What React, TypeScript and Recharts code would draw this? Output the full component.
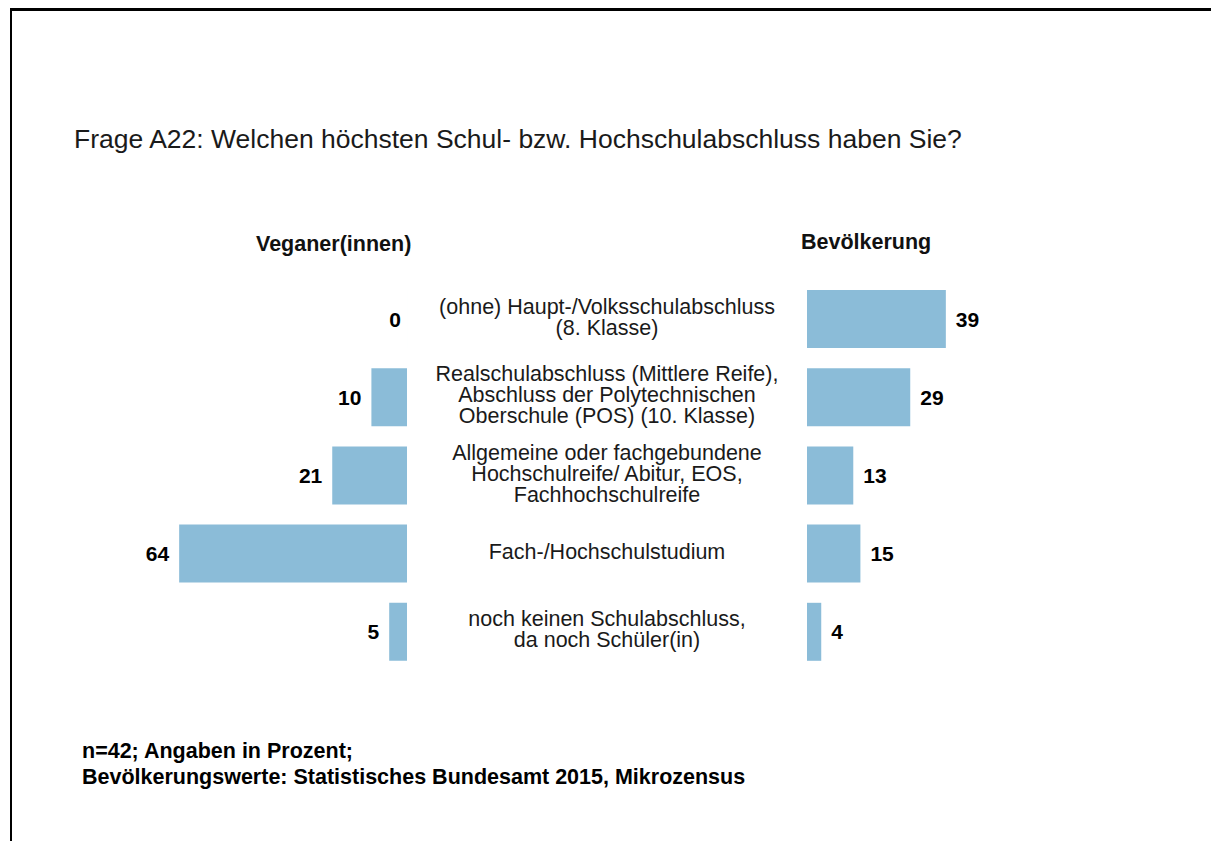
import React from 'react';
import { BarChart, Bar, XAxis, YAxis, LabelList } from 'recharts';

const categories = [
  '(ohne) Haupt-/Volksschulabschluss\n(8. Klasse)',
  'Realschulabschluss (Mittlere Reife),\nAbschluss der Polytechnischen\nOberschule (POS) (10. Klasse)',
  'Allgemeine oder fachgebundene\nHochschulreife/ Abitur, EOS,\nFachhochschulreife',
  'Fach-/Hochschulstudium',
  'noch keinen Schulabschluss,\nda noch Schüler(in)',
];
const veganValues = [0, 10, 21, 64, 5];
const populationValues = [39, 29, 13, 15, 4];

const titleText = 'Frage A22: Welchen höchsten Schul- bzw. Hochschulabschluss haben Sie?';
const leftHeading = 'Veganer(innen)';
const rightHeading = 'Bevölkerung';
const footerLines = [
  'n=42; Angaben in Prozent;',
  'Bevölkerungswerte: Statistisches Bundesamt 2015, Mikrozensus',
];

const data = categories.map((c, i) => ({
  category: c,
  vegan: veganValues[i],
  veganLabel: String(veganValues[i]),
  pop: populationValues[i],
  popLabel: String(populationValues[i]),
}));

const FONT = '"Liberation Sans", Arial, Helvetica, sans-serif';
const BAR_COLOR = '#8bbcd8';

const CategoryTick = (props: any) => {
  const { x, y, payload } = props;
  const lines = String(payload.value).split('\n');
  const lh = 21;
  const cx = x + 200;
  return (
    <g>
      {lines.map((l, i) => (
        <text
          key={i}
          x={cx}
          y={y - 2 + (i - (lines.length - 1) / 2) * lh}
          textAnchor="middle"
          dominantBaseline="central"
          fontFamily={FONT}
          fontSize={21.5}
          fill="#1a1a1a"
        >
          {l}
        </text>
      ))}
    </g>
  );
};

const LeftLabel = (props: any) => {
  const { x, y, width, height, value } = props;
  const left = Math.min(x, x + width);
  return (
    <text
      x={left - (Math.abs(width) < 1 ? 6 : 10)}
      y={y + height / 2}
      textAnchor="end"
      dominantBaseline="central"
      fontFamily={FONT}
      fontWeight="bold"
      fontSize={21}
      fill="#000"
    >
      {value}
    </text>
  );
};

const RightLabel = (props: any) => {
  const { x, y, width, height, value } = props;
  const right = Math.max(x, x + width);
  return (
    <text
      x={right + 10}
      y={y + height / 2}
      textAnchor="start"
      dominantBaseline="central"
      fontFamily={FONT}
      fontWeight="bold"
      fontSize={21}
      fill="#000"
    >
      {value}
    </text>
  );
};

export default function App() {
  return (
    <div style={{ position: 'absolute', left: 0, top: 0, width: 1211, height: 841, background: '#fff', overflow: 'hidden' }}>
      <div
        style={{
          position: 'absolute',
          left: 10,
          top: 8,
          width: 1201,
          height: 833,
          borderTop: '3px solid #000',
          borderLeft: '2px solid #000',
          boxSizing: 'border-box',
        }}
      />
      <svg width={1211} height={841} style={{ position: 'absolute', left: 0, top: 0 }}>
        <text x={74} y={148} fontFamily={FONT} fontSize={26.5} fill="#1a1a1a">{titleText}</text>
        <text x={256} y={251} fontFamily={FONT} fontSize={21.5} fontWeight="bold" fill="#111">{leftHeading}</text>
        <text x={801} y={249} fontFamily={FONT} fontSize={21.5} fontWeight="bold" fill="#111">{rightHeading}</text>
        {footerLines.map((l, i) => (
          <text key={i} x={82} y={758 + i * 26} fontFamily={FONT} fontSize={21.5} fontWeight="bold" fill="#000">{l}</text>
        ))}
      </svg>
      <div style={{ position: 'absolute', left: 0, top: 0 }}>
        <BarChart
          layout="vertical"
          width={807}
          height={841}
          data={data}
          margin={{ top: 280, bottom: 170, left: 51, right: 0 }}
        >
          <XAxis type="number" domain={[0, 100]} reversed hide />
          <YAxis
            type="category"
            dataKey="category"
            orientation="right"
            width={400}
            axisLine={false}
            tickLine={false}
            tickSize={0}
            tickMargin={0}
            interval={0}
            tick={<CategoryTick />}
          />
          <Bar dataKey="vegan" fill={BAR_COLOR} barSize={58} minPointSize={0.01} isAnimationActive={false}>
            <LabelList dataKey="veganLabel" content={<LeftLabel />} />
          </Bar>
        </BarChart>
      </div>
      <div style={{ position: 'absolute', left: 0, top: 0 }}>
        <BarChart
          layout="vertical"
          width={1211}
          height={841}
          data={data}
          margin={{ top: 280, bottom: 170, left: 807, right: 48 }}
        >
          <XAxis type="number" domain={[0, 100]} hide />
          <YAxis type="category" dataKey="category" hide />
          <Bar dataKey="pop" fill={BAR_COLOR} barSize={58} isAnimationActive={false}>
            <LabelList dataKey="popLabel" content={<RightLabel />} />
          </Bar>
        </BarChart>
      </div>
    </div>
  );
}
